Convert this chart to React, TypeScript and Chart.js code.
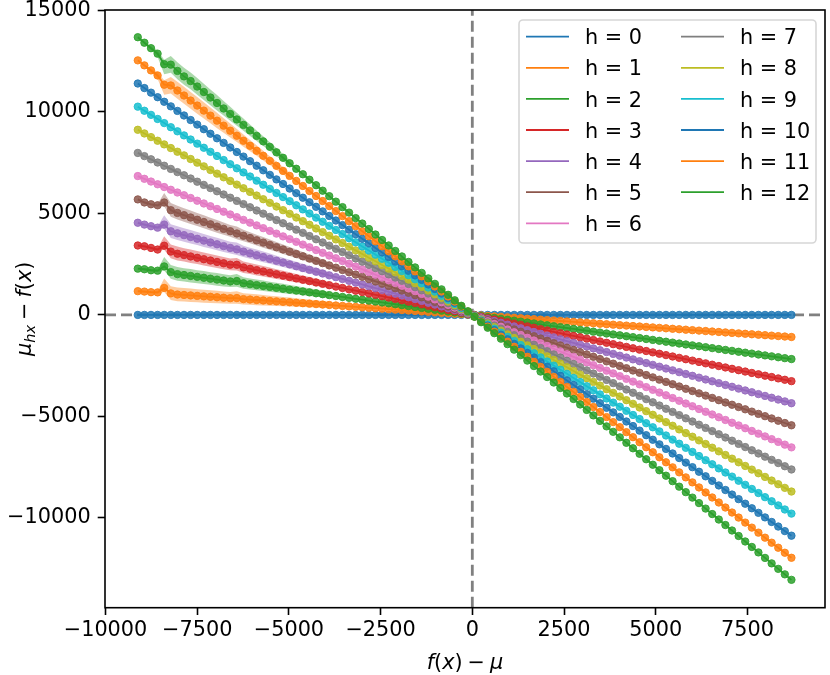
import { useEffect, useRef } from "react";
import Chart from "chart.js/auto";

// x positions: f(x) - mu
const xValues = [
  -9120, -8940, -8760, -8580, -8400, -8220, -8040, -7860, -7680, -7500,
  -7320, -7140, -6960, -6780, -6600, -6420, -6240, -6060, -5880, -5700,
  -5520, -5340, -5160, -4980, -4800, -4620, -4440, -4260, -4080, -3900,
  -3720, -3540, -3360, -3180, -3000, -2820, -2640, -2460, -2280, -2100,
  -1920, -1740, -1560, -1380, -1200, -1020, -840, -660, -480, -300,
  -120, 60, 240, 420, 600, 780, 960, 1140, 1320, 1500,
  1680, 1860, 2040, 2220, 2400, 2580, 2760, 2940, 3120, 3300,
  3480, 3660, 3840, 4020, 4200, 4380, 4560, 4740, 4920, 5100,
  5280, 5460, 5640, 5820, 6000, 6180, 6360, 6540, 6720, 6900,
  7080, 7260, 7440, 7620, 7800, 7980, 8160, 8340, 8520, 8700,
];

const h0 = [
  0, 0, 0, 0, 0, 0, 0, 0, 0, 0,
  0, 0, 0, 0, 0, 0, 0, 0, 0, 0,
  0, 0, 0, 0, 0, 0, 0, 0, 0, 0,
  0, 0, 0, 0, 0, 0, 0, 0, 0, 0,
  0, 0, 0, 0, 0, 0, 0, 0, 0, 0,
  0, 0, 0, 0, 0, 0, 0, 0, 0, 0,
  0, 0, 0, 0, 0, 0, 0, 0, 0, 0,
  0, 0, 0, 0, 0, 0, 0, 0, 0, 0,
  0, 0, 0, 0, 0, 0, 0, 0, 0, 0,
  0, 0, 0, 0, 0, 0, 0, 0, 0, 0,
];
const h1 = [
  1170, 1150, 1120, 1110, 1330, 1060, 1005, 983, 960, 938,
  915, 893, 870, 848, 825, 830, 780, 758, 735, 713,
  690, 668, 645, 623, 600, 578, 555, 533, 510, 488,
  465, 443, 420, 398, 375, 353, 330, 308, 285, 263,
  240, 218, 195, 173, 150, 128, 105, 83, 60, 38,
  15, -8, -30, -53, -75, -98, -120, -143, -165, -188,
  -210, -233, -255, -278, -300, -323, -345, -368, -390, -413,
  -435, -458, -480, -503, -525, -548, -570, -593, -615, -638,
  -660, -683, -705, -728, -750, -773, -795, -818, -840, -863,
  -885, -908, -930, -953, -975, -998, -1020, -1043, -1065, -1088,
];
const h2 = [
  2280, 2250, 2200, 2180, 2390, 2110, 2010, 1965, 1920, 1875,
  1830, 1785, 1740, 1695, 1650, 1670, 1560, 1515, 1470, 1425,
  1380, 1335, 1290, 1245, 1200, 1155, 1110, 1065, 1020, 975,
  930, 885, 840, 795, 750, 705, 660, 615, 570, 525,
  480, 435, 390, 345, 300, 255, 210, 165, 120, 75,
  30, -15, -60, -105, -150, -195, -240, -285, -330, -375,
  -420, -465, -510, -555, -600, -645, -690, -735, -780, -825,
  -870, -915, -960, -1005, -1050, -1095, -1140, -1185, -1230, -1275,
  -1320, -1365, -1410, -1455, -1500, -1545, -1590, -1635, -1680, -1725,
  -1770, -1815, -1860, -1905, -1950, -1995, -2040, -2085, -2130, -2175,
];
const h3 = [
  3420, 3380, 3300, 3220, 3410, 3120, 3015, 2948, 2880, 2813,
  2745, 2678, 2610, 2543, 2475, 2470, 2340, 2273, 2205, 2138,
  2070, 2003, 1935, 1868, 1800, 1733, 1665, 1598, 1530, 1463,
  1395, 1328, 1260, 1193, 1125, 1058, 990, 923, 855, 788,
  720, 653, 585, 518, 450, 383, 315, 248, 180, 113,
  45, -23, -90, -158, -225, -293, -360, -428, -495, -563,
  -630, -698, -765, -833, -900, -968, -1035, -1103, -1170, -1238,
  -1305, -1373, -1440, -1508, -1575, -1643, -1710, -1778, -1845, -1913,
  -1980, -2048, -2115, -2183, -2250, -2318, -2385, -2453, -2520, -2588,
  -2655, -2723, -2790, -2858, -2925, -2993, -3060, -3128, -3195, -3263,
];
const h4 = [
  4540, 4450, 4370, 4300, 4450, 4120, 4020, 3930, 3840, 3750,
  3660, 3570, 3480, 3390, 3300, 3230, 3120, 3030, 2940, 2850,
  2760, 2670, 2580, 2490, 2400, 2310, 2220, 2130, 2040, 1950,
  1860, 1770, 1680, 1590, 1500, 1410, 1320, 1230, 1140, 1050,
  960, 870, 780, 690, 600, 510, 420, 330, 240, 150,
  60, -30, -120, -210, -300, -390, -480, -570, -660, -750,
  -840, -930, -1020, -1110, -1200, -1290, -1380, -1470, -1560, -1650,
  -1740, -1830, -1920, -2010, -2100, -2190, -2280, -2370, -2460, -2550,
  -2640, -2730, -2820, -2910, -3000, -3090, -3180, -3270, -3360, -3450,
  -3540, -3630, -3720, -3810, -3900, -3990, -4080, -4170, -4260, -4350,
];
const h5 = [
  5690, 5540, 5450, 5400, 5540, 5160, 5025, 4913, 4800, 4688,
  4575, 4463, 4350, 4238, 4125, 4013, 3900, 3788, 3675, 3563,
  3450, 3338, 3225, 3113, 3000, 2888, 2775, 2663, 2550, 2438,
  2325, 2213, 2100, 1988, 1875, 1763, 1650, 1538, 1425, 1313,
  1200, 1088, 975, 863, 750, 638, 525, 413, 300, 188,
  75, -38, -150, -263, -375, -488, -600, -713, -825, -938,
  -1050, -1163, -1275, -1388, -1500, -1613, -1725, -1838, -1950, -2063,
  -2175, -2288, -2400, -2513, -2625, -2738, -2850, -2963, -3075, -3188,
  -3300, -3413, -3525, -3638, -3750, -3863, -3975, -4088, -4200, -4313,
  -4425, -4538, -4650, -4763, -4875, -4988, -5100, -5213, -5325, -5438,
];
const h6 = [
  6840, 6705, 6570, 6435, 6300, 6165, 6030, 5895, 5760, 5625,
  5490, 5355, 5220, 5085, 4950, 4815, 4680, 4545, 4410, 4275,
  4140, 4005, 3870, 3735, 3600, 3465, 3330, 3195, 3060, 2925,
  2790, 2655, 2520, 2385, 2250, 2115, 1980, 1845, 1710, 1575,
  1440, 1305, 1170, 1035, 900, 765, 630, 495, 360, 225,
  90, -45, -180, -315, -450, -585, -720, -855, -990, -1125,
  -1260, -1395, -1530, -1665, -1800, -1935, -2070, -2205, -2340, -2475,
  -2610, -2745, -2880, -3015, -3150, -3285, -3420, -3555, -3690, -3825,
  -3960, -4095, -4230, -4365, -4500, -4635, -4770, -4905, -5040, -5175,
  -5310, -5445, -5580, -5715, -5850, -5985, -6120, -6255, -6390, -6525,
];
const h7 = [
  7980, 7823, 7665, 7508, 7350, 7193, 7035, 6878, 6720, 6563,
  6405, 6248, 6090, 5933, 5775, 5618, 5460, 5303, 5145, 4988,
  4830, 4673, 4515, 4358, 4200, 4043, 3885, 3728, 3570, 3413,
  3255, 3098, 2940, 2783, 2625, 2468, 2310, 2153, 1995, 1838,
  1680, 1523, 1365, 1208, 1050, 893, 735, 578, 420, 263,
  105, -53, -210, -368, -525, -683, -840, -998, -1155, -1313,
  -1470, -1628, -1785, -1943, -2100, -2258, -2415, -2573, -2730, -2888,
  -3045, -3203, -3360, -3518, -3675, -3833, -3990, -4148, -4305, -4463,
  -4620, -4778, -4935, -5093, -5250, -5408, -5565, -5723, -5880, -6038,
  -6195, -6353, -6510, -6668, -6825, -6983, -7140, -7298, -7455, -7613,
];
const h8 = [
  9120, 8940, 8760, 8580, 8400, 8220, 8040, 7860, 7680, 7500,
  7320, 7140, 6960, 6780, 6600, 6420, 6240, 6060, 5880, 5700,
  5520, 5340, 5160, 4980, 4800, 4620, 4440, 4260, 4080, 3900,
  3720, 3540, 3360, 3180, 3000, 2820, 2640, 2460, 2280, 2100,
  1920, 1740, 1560, 1380, 1200, 1020, 840, 660, 480, 300,
  120, -60, -240, -420, -600, -780, -960, -1140, -1320, -1500,
  -1680, -1860, -2040, -2220, -2400, -2580, -2760, -2940, -3120, -3300,
  -3480, -3660, -3840, -4020, -4200, -4380, -4560, -4740, -4920, -5100,
  -5280, -5460, -5640, -5820, -6000, -6180, -6360, -6540, -6720, -6900,
  -7080, -7260, -7440, -7620, -7800, -7980, -8160, -8340, -8520, -8700,
];
const h9 = [
  10260, 10058, 9855, 9653, 9450, 9248, 9045, 8843, 8640, 8438,
  8235, 8033, 7830, 7628, 7425, 7223, 7020, 6818, 6615, 6413,
  6210, 6008, 5805, 5603, 5400, 5198, 4995, 4793, 4590, 4388,
  4185, 3983, 3780, 3578, 3375, 3173, 2970, 2768, 2565, 2363,
  2160, 1958, 1755, 1553, 1350, 1148, 945, 743, 540, 338,
  135, -68, -270, -473, -675, -878, -1080, -1283, -1485, -1688,
  -1890, -2093, -2295, -2498, -2700, -2903, -3105, -3308, -3510, -3713,
  -3915, -4118, -4320, -4523, -4725, -4928, -5130, -5333, -5535, -5738,
  -5940, -6143, -6345, -6548, -6750, -6953, -7155, -7358, -7560, -7763,
  -7965, -8168, -8370, -8573, -8775, -8978, -9180, -9383, -9585, -9788,
];
const h10 = [
  11400, 11175, 10950, 10725, 10500, 10275, 10050, 9825, 9600, 9375,
  9150, 8925, 8700, 8475, 8250, 8025, 7800, 7575, 7350, 7125,
  6900, 6675, 6450, 6225, 6000, 5775, 5550, 5325, 5100, 4875,
  4650, 4425, 4200, 3975, 3750, 3525, 3300, 3075, 2850, 2625,
  2400, 2175, 1950, 1725, 1500, 1275, 1050, 825, 600, 375,
  150, -75, -300, -525, -750, -975, -1200, -1425, -1650, -1875,
  -2100, -2325, -2550, -2775, -3000, -3225, -3450, -3675, -3900, -4125,
  -4350, -4575, -4800, -5025, -5250, -5475, -5700, -5925, -6150, -6375,
  -6600, -6825, -7050, -7275, -7500, -7725, -7950, -8175, -8400, -8625,
  -8850, -9075, -9300, -9525, -9750, -9975, -10200, -10425, -10650, -10875,
];
const h11 = [
  12540, 12293, 12045, 11798, 11340, 11303, 11055, 10808, 10560, 10313,
  10065, 9818, 9570, 9323, 9075, 8828, 8580, 8333, 8085, 7838,
  7590, 7343, 7095, 6848, 6600, 6353, 6105, 5858, 5610, 5363,
  5115, 4868, 4620, 4373, 4125, 3878, 3630, 3383, 3135, 2888,
  2640, 2393, 2145, 1898, 1650, 1403, 1155, 908, 660, 413,
  165, -83, -330, -578, -825, -1073, -1320, -1568, -1815, -2063,
  -2310, -2558, -2805, -3053, -3300, -3548, -3795, -4043, -4290, -4538,
  -4785, -5033, -5280, -5528, -5775, -6023, -6270, -6518, -6765, -7013,
  -7260, -7508, -7755, -8003, -8250, -8498, -8745, -8993, -9240, -9488,
  -9735, -9983, -10230, -10478, -10725, -10973, -11220, -11468, -11715, -11963,
];
const h12 = [
  13680, 13410, 13140, 12870, 12350, 12330, 12020, 11750, 11520, 11250,
  10980, 10710, 10440, 10170, 9900, 9630, 9360, 9090, 8820, 8550,
  8280, 8010, 7740, 7470, 7200, 6930, 6660, 6390, 6120, 5850,
  5580, 5310, 5040, 4770, 4500, 4230, 3960, 3690, 3420, 3150,
  2880, 2610, 2340, 2070, 1800, 1530, 1260, 990, 720, 450,
  180, -90, -360, -630, -900, -1170, -1440, -1710, -1980, -2250,
  -2520, -2790, -3060, -3330, -3600, -3870, -4140, -4410, -4680, -4950,
  -5220, -5490, -5760, -6030, -6300, -6570, -6840, -7110, -7380, -7650,
  -7920, -8190, -8460, -8730, -9000, -9270, -9540, -9810, -10080, -10350,
  -10620, -10890, -11160, -11430, -11700, -11970, -12240, -12510, -12780, -13050,
];

// shaded spread around the left part of some curves (offsets above / below)
const smallBandUp = [
  60, 60, 60, 70, 460, 350, 350, 340, 340, 330, 330, 320, 320, 310, 300,
  340, 290, 280, 280, 270, 260, 250, 240, 230, 220, 210, 200, 190, 180, 170,
];
const smallBandDown = [
  60, 60, 60, 70, 200, 330, 330, 320, 320, 310, 310, 300, 300, 290, 280,
  280, 270, 260, 260, 250, 240, 230, 220, 210, 200, 190, 180, 170, 160, 150,
];
const bigBandUp = [
  50, 50, 90, 170, 220, 420, 430, 430, 420, 420, 410, 400, 390,
  370, 350, 330, 310, 290, 270, 250, 230, 210, 190, 170,
];
const bigBandDown = [
  50, 50, 90, 170, 500, 400, 410, 410, 400, 400, 390, 380, 370,
  350, 330, 310, 290, 270, 250, 230, 210, 190, 170, 150,
];

const seriesNames = [
  "h = 0", "h = 1", "h = 2", "h = 3", "h = 4", "h = 5", "h = 6",
  "h = 7", "h = 8", "h = 9", "h = 10", "h = 11", "h = 12",
];
const seriesValues = [h0, h1, h2, h3, h4, h5, h6, h7, h8, h9, h10, h11, h12];
const bandedSmall = [1, 2, 3, 4, 5];
const bandedBig = [11, 12];

const colors = [
  "#1f77b4", "#ff7f0e", "#2ca02c", "#d62728", "#9467bd", "#8c564b", "#e377c2",
  "#7f7f7f", "#bcbd22", "#17becf", "#1f77b4", "#ff7f0e", "#2ca02c",
];

const xTicks = [-10000, -7500, -5000, -2500, 0, 2500, 5000, 7500];
const yTicks = [-10000, -5000, 0, 5000, 10000, 15000];

const FONT = "'DejaVu Sans', sans-serif";
const FS = 20.8;

const rgba = (hex: string, a: number) => {
  const n = parseInt(hex.slice(1), 16);
  return `rgba(${(n >> 16) & 255}, ${(n >> 8) & 255}, ${n & 255}, ${a})`;
};

const fmt = (v: number | string) => {
  const n = Number(v);
  return n < 0 ? "\u2212" + Math.abs(n) : String(n);
};

type Piece = { t: string; italic?: boolean; sub?: boolean; padL?: number; padR?: number };

const drawMath = (
  ctx: CanvasRenderingContext2D,
  pieces: Piece[],
  cx: number,
  cy: number,
  vertical: boolean
) => {
  const fontOf = (p: Piece) => `${p.italic ? "oblique " : ""}${p.sub ? FS * 0.7 : FS}px ${FONT}`;
  const widths = pieces.map((p) => {
    ctx.font = fontOf(p);
    return ctx.measureText(p.t).width + (p.padL || 0) + (p.padR || 0);
  });
  const total = widths.reduce((a, b) => a + b, 0);
  ctx.save();
  ctx.translate(cx, cy);
  if (vertical) ctx.rotate(-Math.PI / 2);
  ctx.fillStyle = "#000";
  ctx.textAlign = "left";
  ctx.textBaseline = "alphabetic";
  let x = -total / 2;
  pieces.forEach((p, i) => {
    ctx.font = fontOf(p);
    ctx.fillText(p.t, x + (p.padL || 0), p.sub ? FS * 0.2 : 0);
    x += widths[i];
  });
  ctx.restore();
};

const xTitle: Piece[] = [
  { t: "f", italic: true },
  { t: "(" },
  { t: "x", italic: true },
  { t: ")" },
  { t: "\u2212", padL: 5, padR: 5 },
  { t: "\u03bc", italic: true },
];
const yTitle: Piece[] = [
  { t: "\u03bc", italic: true },
  { t: "hx", italic: true, sub: true },
  { t: "\u2212", padL: 5, padR: 5 },
  { t: "f", italic: true },
  { t: "(" },
  { t: "x", italic: true },
  { t: ")" },
];

// dashed zero lines under the data
const zeroLines = {
  id: "zeroLines",
  beforeDatasetsDraw(chart: any) {
    const { ctx, chartArea: a, scales } = chart;
    const y0 = scales.y.getPixelForValue(0);
    const x0 = scales.x.getPixelForValue(0);
    ctx.save();
    ctx.strokeStyle = "#808080";
    ctx.lineWidth = 2.8;
    ctx.setLineDash([11, 5]);
    ctx.beginPath();
    ctx.moveTo(a.left, y0);
    ctx.lineTo(a.right, y0);
    ctx.stroke();
    ctx.beginPath();
    ctx.moveTo(x0, a.bottom);
    ctx.lineTo(x0, a.top);
    ctx.stroke();
    ctx.restore();
  },
};

const frame = {
  id: "frame",
  afterDatasetsDraw(chart: any) {
    const { ctx, chartArea: a } = chart;
    ctx.save();
    ctx.strokeStyle = "#000";
    ctx.lineWidth = 1.6;
    ctx.strokeRect(a.left, a.top, a.right - a.left, a.bottom - a.top);
    ctx.restore();
  },
};

const legendAndTitles = {
  id: "legendAndTitles",
  afterDraw(chart: any) {
    const { ctx, chartArea: a } = chart;
    ctx.save();
    // legend frame
    const bx = a.right - 306, by = a.top + 10, bw = 297, bh = 223, r = 4;
    ctx.beginPath();
    ctx.moveTo(bx + r, by);
    ctx.lineTo(bx + bw - r, by);
    ctx.arcTo(bx + bw, by, bx + bw, by + r, r);
    ctx.lineTo(bx + bw, by + bh - r);
    ctx.arcTo(bx + bw, by + bh, bx + bw - r, by + bh, r);
    ctx.lineTo(bx + r, by + bh);
    ctx.arcTo(bx, by + bh, bx, by + bh - r, r);
    ctx.lineTo(bx, by + r);
    ctx.arcTo(bx, by, bx + r, by, r);
    ctx.closePath();
    ctx.fillStyle = "rgba(255,255,255,0.8)";
    ctx.fill();
    ctx.strokeStyle = "rgba(204,204,204,0.8)";
    ctx.lineWidth = 1.6;
    ctx.stroke();

    ctx.font = `${FS}px ${FONT}`;
    ctx.fillStyle = "#000";
    ctx.textBaseline = "alphabetic";
    ctx.textAlign = "left";
    seriesNames.forEach((name, h) => {
      const col = h < 7 ? 0 : 1;
      const row = h < 7 ? h : h - 7;
      const lx = bx + 7 + col * 155;
      const cy = by + 16.7 + row * 31.1;
      ctx.strokeStyle = colors[h];
      ctx.lineWidth = 1.8;
      ctx.beginPath();
      ctx.moveTo(lx, cy);
      ctx.lineTo(lx + 43, cy);
      ctx.stroke();
      ctx.fillText(name, lx + 59, cy + 7.6);
    });
    ctx.restore();

    drawMath(ctx, xTitle, (a.left + a.right) / 2, 669, false);
    drawMath(ctx, yTitle, 31, (a.top + a.bottom) / 2, true);
  },
};

const tickFont = { family: FONT, size: FS };

const App = () => {
  const canvasRef = useRef<HTMLCanvasElement | null>(null);

  useEffect(() => {
    if (!canvasRef.current) return;

    const datasets: any[] = [];
    seriesValues.forEach((vals, h) => {
      let up: number[] | null = null;
      let down: number[] | null = null;
      if (bandedSmall.includes(h)) {
        up = smallBandUp;
        down = smallBandDown;
      } else if (bandedBig.includes(h)) {
        up = bigBandUp;
        down = bigBandDown;
      }
      if (!up || !down) return;
      const lo = down;
      const hi = up;
      datasets.push({
        data: lo.map((d, i) => ({ x: xValues[i], y: vals[i] - d })),
        borderColor: "transparent",
        borderWidth: 0,
        pointRadius: 0,
        fill: false,
        order: 100,
      });
      datasets.push({
        data: hi.map((u, i) => ({ x: xValues[i], y: vals[i] + u })),
        borderColor: "transparent",
        borderWidth: 0,
        pointRadius: 0,
        fill: "-1",
        backgroundColor: rgba(colors[h], 0.4),
        order: 100,
      });
    });
    seriesValues.forEach((vals, h) => {
      datasets.push({
        label: seriesNames[h],
        data: xValues.map((x, i) => ({ x, y: vals[i] })),
        borderColor: colors[h],
        borderWidth: 1.8,
        pointRadius: 3.7,
        pointBorderWidth: 1,
        pointBackgroundColor: rgba(colors[h], 0.85),
        pointBorderColor: rgba(colors[h], 0.85),
        fill: false,
        order: 12 - h,
      });
    });

    const chart = new Chart(canvasRef.current, {
      type: "line",
      data: { datasets },
      options: {
        responsive: false,
        animation: false,
        events: [],
        layout: { padding: { top: 10, right: 5, left: 0, bottom: 0 } },
        plugins: {
          legend: { display: false },
          tooltip: { enabled: false },
        },
        scales: {
          x: {
            type: "linear",
            min: -10014,
            max: 9615,
            afterBuildTicks: (s: any) => {
              s.ticks = xTicks.map((value) => ({ value }));
            },
            afterFit: (s: any) => {
              s.height = 67.3;
              s.paddingLeft = 0;
              s.paddingRight = 0;
            },
            grid: { drawOnChartArea: false, tickLength: 7.3, tickWidth: 1.6, tickColor: "#000" },
            border: { display: false },
            ticks: { autoSkip: false, maxRotation: 0, padding: 3, color: "#000", font: tickFont, callback: fmt },
          },
          y: {
            type: "linear",
            min: -14423,
            max: 15021,
            afterBuildTicks: (s: any) => {
              s.ticks = yTicks.map((value) => ({ value }));
            },
            afterFit: (s: any) => {
              s.width = 105;
              s.paddingTop = 0;
              s.paddingBottom = 0;
            },
            grid: { drawOnChartArea: false, tickLength: 7.3, tickWidth: 1.6, tickColor: "#000" },
            border: { display: false },
            ticks: { autoSkip: false, padding: 7, color: "#000", font: tickFont, callback: fmt },
          },
        },
      },
      plugins: [zeroLines, frame, legendAndTitles],
    } as any);

    return () => {
      chart.destroy();
    };
  }, []);

  return (
    <div style={{ position: "fixed", left: 0, top: 0, width: 830, height: 675, background: "#fff" }}>
      <canvas ref={canvasRef} width={830} height={675} style={{ display: "block" }} />
    </div>
  );
};

export default App;
